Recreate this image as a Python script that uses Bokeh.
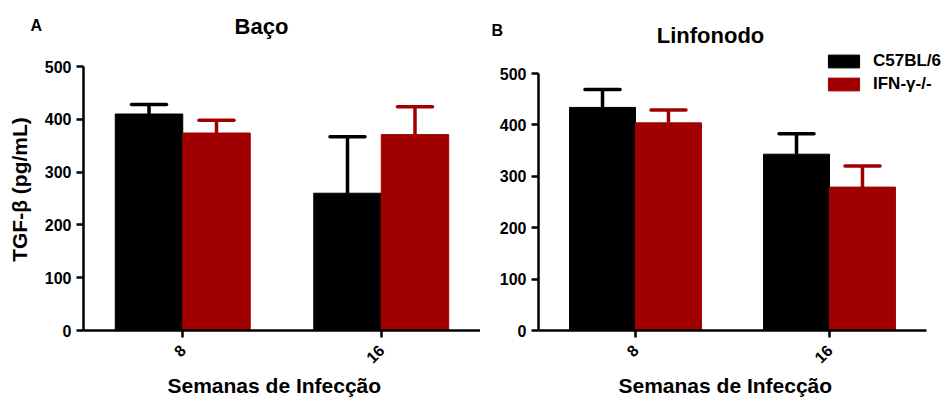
import math
from bokeh.plotting import figure
from bokeh.models import (ColumnDataSource, Whisker, TeeHead, FixedTicker, Label,
                          Legend, LegendItem, Range1d, Title)
from bokeh.layouts import row, column
from bokeh.embed import file_html
from bokeh.resources import INLINE

# ---- data ----
weeks = ["8", "16"]
series = ["C57BL/6", "IFN-γ-/-"]
colors = ["#000000", "#a00000"]

baco_c57 = [410, 260]
baco_c57_err = [18, 107]
baco_ifn = [374, 371]
baco_ifn_err = [24, 53]

linf_c57 = [434, 343]
linf_c57_err = [35, 40]
linf_ifn = [404, 279]
linf_ifn_err = [25, 41]

y_ticks = [0, 100, 200, 300, 400, 500]
y_max = 500

FONT = "Liberation Sans"
BAR_W = 0.34
X_LO, X_HI = 0.5, 2.5

HEAD_H = 48
CHART_H = 399 - HEAD_H
FRAME_BOTTOM = 330          # page y of the x axis


def panel(c57, c57_err, ifn, ifn_err, width, bl, axis_top_px, x_end,
          ylabel, xlabel_offset, legend_loc=None):
    frame_h = FRAME_BOTTOM - HEAD_H
    y_end = y_max * frame_h / (FRAME_BOTTOM - axis_top_px)
    p = figure(width=width, height=CHART_H, output_backend="svg",
               toolbar_location=None, x_range=Range1d(X_LO, x_end),
               y_range=Range1d(0, y_end), min_border_left=bl,
               min_border_right=0, min_border_top=0,
               min_border_bottom=CHART_H - frame_h)
    pos = [i + 1 for i in range(len(weeks))]
    renderers = []
    for k, (vals, errs) in enumerate([(c57, c57_err), (ifn, ifn_err)]):
        xs = [x + (k - 0.5) * BAR_W for x in pos]
        src = ColumnDataSource(dict(x=xs, top=vals,
                                    upper=[v + e for v, e in zip(vals, errs)]))
        r = p.vbar(x="x", top="top", width=BAR_W, bottom=0, source=src,
                   fill_color=colors[k], line_color=colors[k])
        renderers.append(r)
        w = Whisker(base="x", lower="top", upper="upper", source=src,
                    line_color=colors[k], line_width=3.5, lower_head=None,
                    upper_head=TeeHead(size=35, line_color=colors[k],
                                       line_width=3.5, line_cap="round"))
        p.add_layout(w)

    p.xaxis.ticker = FixedTicker(ticks=pos)
    p.xaxis.major_label_overrides = {x: lab for x, lab in zip(pos, weeks)}
    p.xaxis.major_label_orientation = math.pi / 4
    p.xaxis.bounds = (X_LO, X_HI)
    p.yaxis.ticker = FixedTicker(ticks=y_ticks)
    p.yaxis.bounds = (0, y_max)
    if ylabel:
        p.yaxis.axis_label = ylabel
    for ax in p.axis:
        ax.axis_line_width = 2.5
        ax.major_tick_line_width = 2.5
        ax.major_tick_out = 7
        ax.major_tick_in = 0
        ax.minor_tick_line_color = None
        ax.major_label_text_font = FONT
        ax.major_label_text_font_style = "bold"
        ax.major_label_text_font_size = "16px"
        ax.major_label_text_color = "black"
        ax.axis_label_text_font = FONT
        ax.axis_label_text_font_style = "bold"
        ax.axis_label_text_font_size = "21px"
        ax.axis_label_text_color = "black"
    p.yaxis.major_label_standoff = 5
    p.yaxis.axis_label_standoff = 11
    p.xaxis.major_label_standoff = 10
    p.grid.visible = False
    p.outline_line_color = None

    p.add_layout(Title(text="Semanas de Infecção", align="left",
                       offset=xlabel_offset, standoff=0, text_font=FONT,
                       text_font_style="bold", text_font_size="21px",
                       text_color="black"), "below")

    if legend_loc is not None:
        items = [LegendItem(label=s, renderers=[r]) for s, r in zip(series, renderers)]
        leg = Legend(items=items, location=legend_loc, glyph_width=39,
                     glyph_height=16, label_height=16, spacing=3, padding=0,
                     margin=0, border_line_color=None, background_fill_alpha=0,
                     label_standoff=10, label_text_font=FONT,
                     label_text_font_style="bold", label_text_font_size="17px",
                     label_text_color="black")
        p.add_layout(leg)
    return p


# header strip with panel letters and titles
head = figure(width=946, height=HEAD_H, output_backend="svg",
              toolbar_location=None, x_range=Range1d(0, 946),
              y_range=Range1d(0, HEAD_H), min_border=0,
              x_axis_type=None, y_axis_type=None)
head.grid.visible = False
head.outline_line_color = None
for txt, x, y, size, align in [("A", 30, 23, "16px", "left"),
                               ("Baço", 261, 22.5, "22px", "center"),
                               ("B", 491, 18, "16px", "left"),
                               ("Linfonodo", 710, 13.5, "22px", "center")]:
    head.add_layout(Label(x=x, y=y, x_units="screen", y_units="screen",
                          text=txt, text_font=FONT, text_font_style="bold",
                          text_font_size=size, text_align=align,
                          text_baseline="alphabetic", text_color="black"))

pA = panel(baco_c57, baco_c57_err, baco_ifn, baco_ifn_err, width=480, bl=83,
           axis_top_px=66, x_end=X_HI, ylabel="TGF-β (pg/mL)",
           xlabel_offset=84)
pB = panel(linf_c57, linf_c57_err, linf_ifn, linf_ifn_err, width=466, bl=58,
           axis_top_px=73, x_end=X_HI + 20 / 194, ylabel=None,
           xlabel_offset=80, legend_loc=(286, 236))

layout = column(head, row(pA, pB))
open("out.html", "w").write(file_html(layout, INLINE))
